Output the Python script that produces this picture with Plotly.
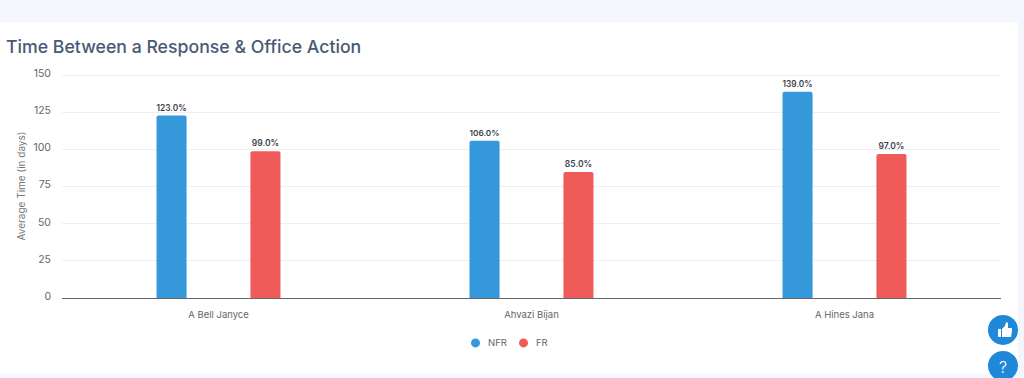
import plotly.graph_objects as go

categories = ["A Bell Janyce", "Ahvazi Bijan", "A Hines Jana"]
series_names = ["NFR", "FR"]
nfr_values = [123, 106, 139]
fr_values = [99, 85, 97]
y_ticks = [0, 25, 50, 75, 100, 125, 150]
BLUE = "#3498db"
RED = "#ef5b58"
W, H = 1024, 378
L, R, T, B = 62, 1001, 73.5, 298
FONT = "Inter"

def px(v): return (v - L) / (R - L)
def py(v): return (B - v) / (B - T)
def path(points):
    return "M " + " L ".join(f"{px(a):.5f},{py(b):.5f}" for a, b in points) + " Z"

fig = go.Figure()
for name, vals, col in zip(series_names, [nfr_values, fr_values], [BLUE, RED]):
    fig.add_trace(go.Bar(
        x=categories, y=vals, name=name, showlegend=False,
        marker=dict(color=col, cornerradius=2, line=dict(width=2, color="rgba(0,0,0,0)")),
        texttemplate="%{y:.1f}%", textposition="outside", cliponaxis=False,
        textfont=dict(family=FONT, size=8.5, color="#3a3f4a", weight=600),
        hoverinfo="x+y"))

shapes = [
    dict(type="rect", xref="paper", yref="paper", layer="below",
         x0=px(0), x1=px(1018), y0=py(22), y1=py(374),
         fillcolor="white", line=dict(width=0)),
    dict(type="circle", xref="paper", yref="paper", layer="above",
         x0=px(988), x1=px(1018), y0=py(315), y1=py(345),
         fillcolor="#1f88d8", line=dict(width=0)),
    dict(type="circle", xref="paper", yref="paper", layer="above",
         x0=px(988), x1=px(1018), y0=py(351), y1=py(381),
         fillcolor="#1f88d8", line=dict(width=0)),
    dict(type="path", xref="paper", yref="paper", layer="above",
         path=path([(998, 329), (1001, 329), (1001, 337), (998, 337)]),
         fillcolor="white", line=dict(width=0)),
    dict(type="path", xref="paper", yref="paper", layer="above",
         path=path([(1002, 329), (1005, 326), (1006, 322), (1008, 323), (1008, 328),
                    (1012, 328), (1012, 331), (1011, 337), (1002, 337)]),
         fillcolor="white", line=dict(width=0)),
]
annotations = [
    dict(text="Time Between a Response &amp; Office Action", xref="paper", yref="paper",
         x=px(3.5), y=py(46), xanchor="left", yanchor="middle", showarrow=False,
         font=dict(family=FONT, size=17.7, color="#4b5875", weight=500)),
    dict(text="?", xref="paper", yref="paper", x=px(1003), y=py(367),
         xanchor="center", yanchor="middle", showarrow=False,
         font=dict(family=FONT, size=16, color="white", weight=300)),
]
# legend row: round keys close to their labels
for name, col, dot_x in zip(series_names, [BLUE, RED], [475.5, 523.5]):
    shapes.append(dict(type="circle", xref="paper", yref="paper", layer="above",
                       x0=px(dot_x - 4.5), x1=px(dot_x + 4.5), y0=py(347.5), y1=py(338.5),
                       fillcolor=col, line=dict(width=0)))
    annotations.append(dict(text=name, xref="paper", yref="paper", x=px(dot_x + 10), y=py(343),
                            xanchor="left", yanchor="middle", showarrow=False,
                            font=dict(family=FONT, size=9.5, color="#666")))

fig.update_layout(
    width=W, height=H, autosize=False,
    margin=dict(l=L, r=W - R, t=T, b=H - B),
    paper_bgcolor="#f3f7fd", plot_bgcolor="white",
    barmode="group", bargap=0.4, bargroupgap=0.68,
    font=dict(family=FONT, color="#666"),
    showlegend=False,
    shapes=shapes, annotations=annotations,
    xaxis=dict(showline=True, linecolor="#666", linewidth=1, showgrid=False,
               tickfont=dict(family=FONT, size=9.5, color="#666"), ticks="", ticklabelstandoff=8),
    yaxis=dict(range=[0, 151], tickvals=y_ticks, gridcolor="#eeeff2", gridwidth=1,
               zeroline=False, tickfont=dict(family=FONT, size=10.5, color="#666"),
               ticks="", ticklabelstandoff=10, ticklabelshift=-2,
               title=dict(text="Average Time (in days)", standoff=5,
                          font=dict(family=FONT, size=10, color="#777"))),
    hovermode="closest",
)
fig.write_html("out.html", config={"displayModeBar": False},
               post_script="document.body.style.margin='0';document.body.style.background='#f3f7fd';")
